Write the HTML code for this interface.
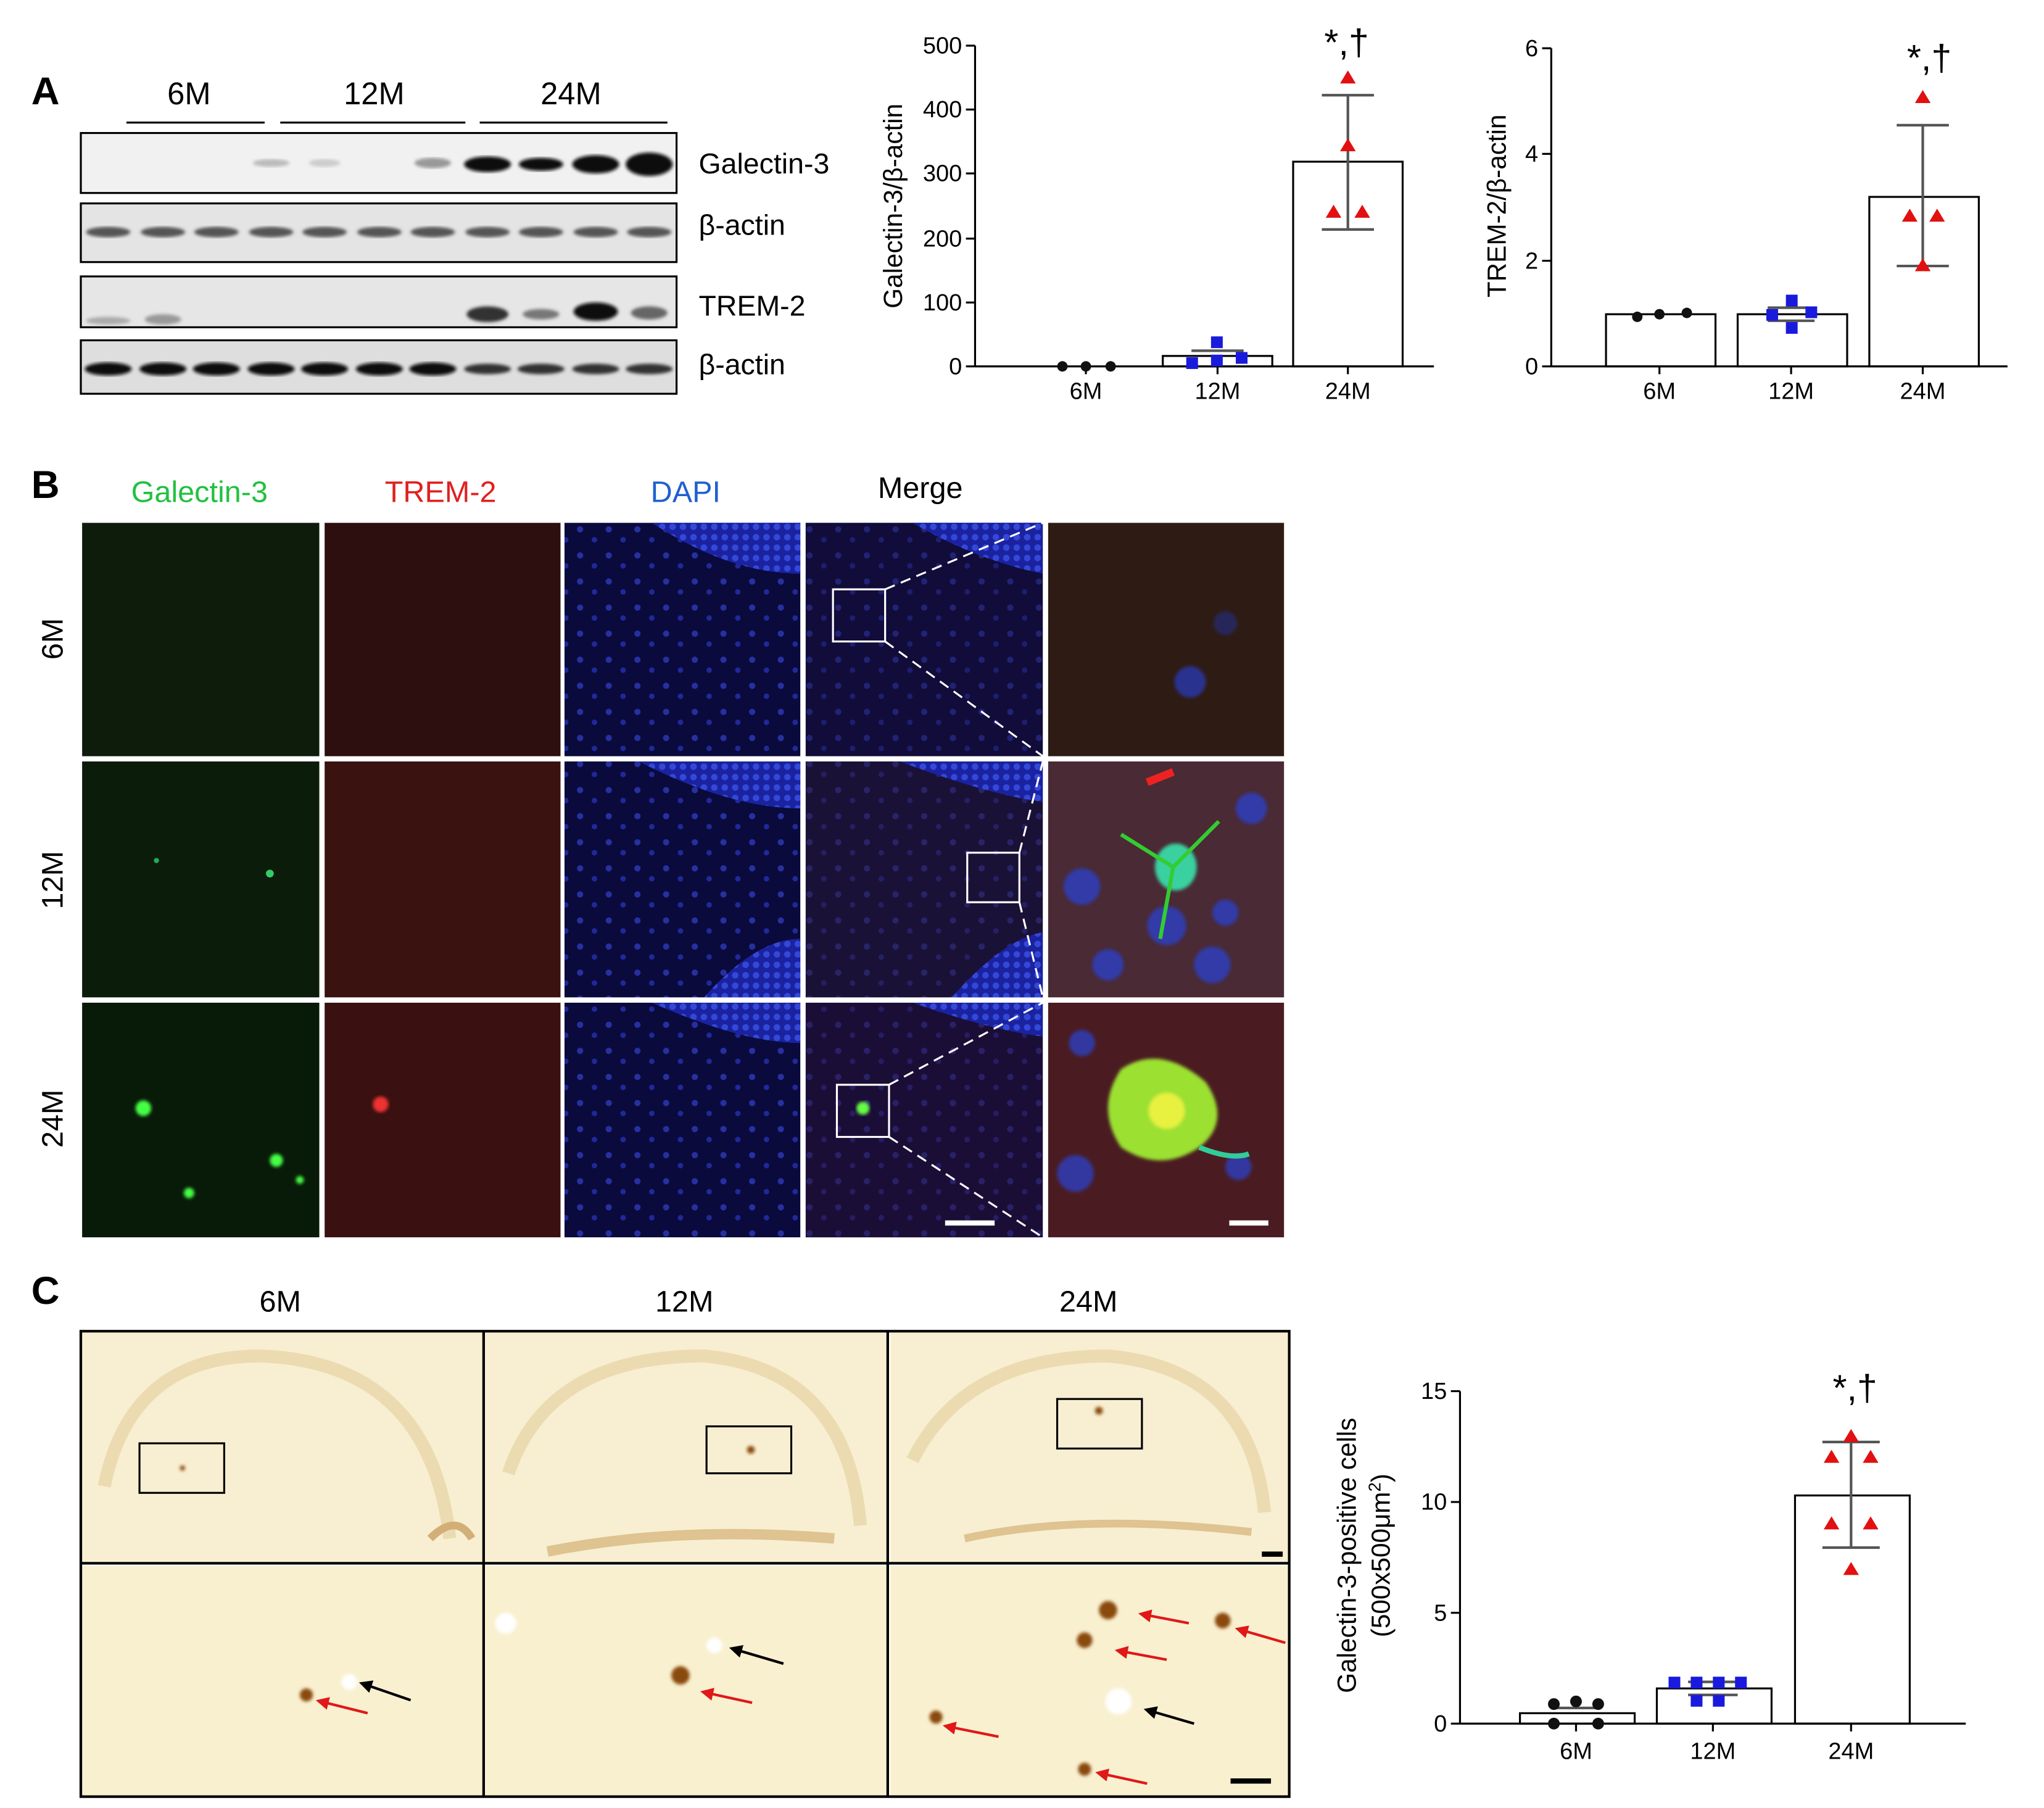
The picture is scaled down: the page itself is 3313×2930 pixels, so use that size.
<!DOCTYPE html>
<html><head><meta charset="utf-8"><style>html,body{margin:0;padding:0;background:#fff}svg{display:block}text{font-family:"Liberation Sans",sans-serif}</style></head><body>
<svg width="3313" height="2930" viewBox="0 0 1568 1386.7" xmlns="http://www.w3.org/2000/svg">
<defs>
<filter id="bl"><feGaussianBlur stdDeviation="3"/></filter>
<filter id="bl1"><feGaussianBlur stdDeviation="1.2"/></filter>
<pattern id="dapi" width="22" height="20" patternUnits="userSpaceOnUse"><rect width="22" height="20" fill="#0a0a3c"/><circle cx="5" cy="6" r="2.4" fill="#2630a0"/><circle cx="16" cy="14" r="2.1" fill="#20289a"/></pattern>
<pattern id="dapid" width="8" height="8" patternUnits="userSpaceOnUse"><rect width="8" height="8" fill="#1a22a0"/><circle cx="4" cy="4" r="2.5" fill="#3448d8"/></pattern>
<marker id="ar" viewBox="0 0 10 10" refX="2" refY="5" markerWidth="5" markerHeight="5" orient="auto-start-reverse"><path d="M0 0L10 5L0 10z" fill="#e01818"/></marker>
<marker id="ak" viewBox="0 0 10 10" refX="2" refY="5" markerWidth="5" markerHeight="5" orient="auto-start-reverse"><path d="M0 0L10 5L0 10z" fill="#000"/></marker>
</defs>
<g font-weight="bold" font-size="30"><text x="24" y="80">A</text><text x="24" y="382">B</text><text x="24" y="1000">C</text></g>
<g font-size="24" text-anchor="middle"><text x="145" y="80">6M</text><text x="287" y="80">12M</text><text x="438" y="80">24M</text></g>
<g stroke="#000" stroke-width="1.5"><line x1="97" y1="94" x2="203" y2="94"/><line x1="215" y1="94" x2="357" y2="94"/><line x1="368" y1="94" x2="512" y2="94"/></g>
<g stroke="#000" stroke-width="1.5" fill="#f1f1f1"><rect x="62" y="102" width="457" height="46"/><rect x="62" y="156" width="457" height="45" fill="#e4e4e4"/><rect x="62" y="212" width="457" height="39" fill="#e6e6e6"/><rect x="62" y="261" width="457" height="41" fill="#dedede"/></g>
<g fill="#111">
<ellipse cx="208" cy="125" rx="14" ry="3" fill="#bbb" filter="url(#bl1)"/><ellipse cx="249" cy="125" rx="12" ry="3" fill="#ccc" filter="url(#bl1)"/><ellipse cx="332" cy="125" rx="14" ry="4" fill="#999" filter="url(#bl1)"/>
<ellipse cx="374" cy="126" rx="18" ry="6" filter="url(#bl1)"/><ellipse cx="415" cy="126" rx="17" ry="5" filter="url(#bl1)"/><ellipse cx="457" cy="126" rx="18" ry="7" filter="url(#bl1)"/><ellipse cx="498" cy="126" rx="18" ry="9" filter="url(#bl1)"/>
</g>
<g fill="#555" filter="url(#bl1)"><ellipse cx="83" cy="178" rx="17" ry="4"/><ellipse cx="125" cy="178" rx="17" ry="4"/><ellipse cx="166" cy="178" rx="17" ry="4"/><ellipse cx="208" cy="178" rx="17" ry="4"/><ellipse cx="249" cy="178" rx="17" ry="4"/><ellipse cx="291" cy="178" rx="17" ry="4"/><ellipse cx="332" cy="178" rx="17" ry="4"/><ellipse cx="374" cy="178" rx="17" ry="4"/><ellipse cx="415" cy="178" rx="17" ry="4"/><ellipse cx="457" cy="178" rx="17" ry="4"/><ellipse cx="498" cy="178" rx="17" ry="4"/></g>
<g filter="url(#bl1)"><ellipse cx="83" cy="246" rx="17" ry="3" fill="#aaa"/><ellipse cx="125" cy="245" rx="14" ry="4" fill="#999"/><ellipse cx="374" cy="241" rx="16" ry="6" fill="#333"/><ellipse cx="415" cy="241" rx="14" ry="4" fill="#777"/><ellipse cx="457" cy="239" rx="17" ry="7" fill="#111"/><ellipse cx="498" cy="240" rx="14" ry="5" fill="#666"/></g>
<g fill="#111" filter="url(#bl1)"><ellipse cx="83" cy="283" rx="18" ry="5"/><ellipse cx="125" cy="283" rx="18" ry="5"/><ellipse cx="166" cy="283" rx="18" ry="5"/><ellipse cx="208" cy="283" rx="18" ry="5"/><ellipse cx="249" cy="283" rx="18" ry="5"/><ellipse cx="291" cy="283" rx="18" ry="5"/><ellipse cx="332" cy="283" rx="18" ry="5"/><ellipse cx="374" cy="283" rx="18" ry="4" fill="#333"/><ellipse cx="415" cy="283" rx="18" ry="4" fill="#333"/><ellipse cx="457" cy="283" rx="18" ry="4" fill="#333"/><ellipse cx="498" cy="283" rx="18" ry="4" fill="#333"/></g>
<g font-size="22"><text x="536" y="133">Galectin-3</text><text x="536" y="180">β-actin</text><text x="536" y="242">TREM-2</text><text x="536" y="287">β-actin</text></g>
<g stroke="#000" stroke-width="1.5" fill="none"><line x1="748" y1="35" x2="748" y2="281"/><line x1="748" y1="281" x2="1100" y2="281"/>
<line x1="741" y1="35" x2="748" y2="35"/><line x1="741" y1="84" x2="748" y2="84"/><line x1="741" y1="133" x2="748" y2="133"/><line x1="741" y1="183" x2="748" y2="183"/><line x1="741" y1="232" x2="748" y2="232"/><line x1="741" y1="281" x2="748" y2="281"/>
<line x1="833" y1="281" x2="833" y2="287"/><line x1="934" y1="281" x2="934" y2="287"/><line x1="1034" y1="281" x2="1034" y2="287"/>
<rect x="892" y="273" width="84" height="8"/><rect x="992" y="124" width="84" height="157"/></g>
<g stroke="#555" stroke-width="2"><line x1="1034" y1="73" x2="1034" y2="176"/><line x1="1014" y1="73" x2="1054" y2="73"/><line x1="1014" y1="176" x2="1054" y2="176"/><line x1="914" y1="269" x2="954" y2="269"/></g>
<g font-size="18" text-anchor="end"><text x="738" y="41">500</text><text x="738" y="90">400</text><text x="738" y="139">300</text><text x="738" y="189">200</text><text x="738" y="238">100</text><text x="738" y="287">0</text></g>
<g font-size="18" text-anchor="middle"><text x="833" y="306">6M</text><text x="934" y="306">12M</text><text x="1034" y="306">24M</text><text x="1475" y="306">24M</text></g>
<text transform="translate(692,158) rotate(-90)" font-size="20" text-anchor="middle">Galectin-3/β-actin</text>
<text x="1033" y="42" font-size="28" text-anchor="middle">*,†</text>
<g fill="#111"><circle cx="815" cy="281" r="4"/><circle cx="833" cy="281" r="4"/><circle cx="852" cy="281" r="4"/></g>
<g fill="#1a1adc"><rect x="929" y="258" width="9" height="9"/><rect x="910" y="274" width="9" height="9"/><rect x="948" y="270" width="9" height="9"/><rect x="929" y="272" width="9" height="9"/></g>
<g fill="#e21010"><path d="M1034 54l6 10h-12z"/><path d="M1034 106l6 10h-12z"/><path d="M1023 157l6 10h-12z"/><path d="M1045 157l6 10h-12z"/></g>
<g stroke="#000" stroke-width="1.5" fill="none"><line x1="1190" y1="37" x2="1190" y2="281"/><line x1="1190" y1="281" x2="1540" y2="281"/>
<line x1="1183" y1="37" x2="1190" y2="37"/><line x1="1183" y1="118" x2="1190" y2="118"/><line x1="1183" y1="200" x2="1190" y2="200"/><line x1="1183" y1="281" x2="1190" y2="281"/>
<line x1="1273" y1="281" x2="1273" y2="287"/><line x1="1374" y1="281" x2="1374" y2="287"/><line x1="1475" y1="281" x2="1475" y2="287"/>
<rect x="1232" y="241" width="84" height="40"/><rect x="1333" y="241" width="84" height="40"/><rect x="1434" y="151" width="84" height="130"/></g>
<g stroke="#555" stroke-width="2"><line x1="1475" y1="96" x2="1475" y2="204"/><line x1="1455" y1="96" x2="1495" y2="96"/><line x1="1455" y1="204" x2="1495" y2="204"/><line x1="1356" y1="236" x2="1392" y2="236"/><line x1="1356" y1="246" x2="1392" y2="246"/></g>
<g font-size="18" text-anchor="end"><text x="1180" y="43">6</text><text x="1180" y="124">4</text><text x="1180" y="206">2</text><text x="1180" y="287">0</text></g>
<g font-size="18" text-anchor="middle"><text x="1273" y="306">6M</text><text x="1374" y="306">12M</text></g>
<text transform="translate(1155,158) rotate(-90)" font-size="20" text-anchor="middle">TREM-2/β-actin</text>
<text x="1480" y="54" font-size="28" text-anchor="middle">*,†</text>
<g fill="#111"><circle cx="1256" cy="243" r="4"/><circle cx="1273" cy="241" r="4"/><circle cx="1294" cy="240" r="4"/></g>
<g fill="#1a1adc"><rect x="1370" y="226" width="9" height="9"/><rect x="1355" y="237" width="9" height="9"/><rect x="1385" y="235" width="9" height="9"/><rect x="1370" y="247" width="9" height="9"/></g>
<g fill="#e21010"><path d="M1475 69l6 10h-12z"/><path d="M1465 160l6 10h-12z"/><path d="M1486 160l6 10h-12z"/><path d="M1475 198l6 10h-12z"/></g>
<g font-size="23" text-anchor="middle"><text x="153" y="385" fill="#22c040">Galectin-3</text><text x="338" y="385" fill="#e02020">TREM-2</text><text x="526" y="385" fill="#2060d0">DAPI</text><text x="706" y="382">Merge</text></g>
<g font-size="23" text-anchor="middle"><text transform="translate(48,490) rotate(-90)">6M</text><text transform="translate(48,675) rotate(-90)">12M</text><text transform="translate(48,858) rotate(-90)">24M</text></g>
<rect x="63" y="401" width="182" height="179" fill="#0e1c0c"/>
<rect x="249" y="401" width="181" height="179" fill="#2c0f0e"/>
<rect x="433" y="401" width="181" height="179" fill="url(#dapi)"/><path d="M500 401 Q560 440 614 440 V401Z" fill="url(#dapid)"/>
<rect x="618" y="401" width="182" height="179" fill="#1c1034"/><rect x="618" y="401" width="182" height="179" fill="url(#dapi)" opacity="0.6"/><path d="M700 401 Q750 430 800 440 V401Z" fill="url(#dapid)"/>
<rect x="804" y="401" width="181" height="179" fill="#2e1c14"/><circle cx="913" cy="523" r="12" fill="#2a3090" filter="url(#bl1)"/><circle cx="940" cy="478" r="9" fill="#28285a" filter="url(#bl1)"/>
<rect x="63" y="584" width="182" height="181" fill="#0c1c0a"/><circle cx="207" cy="670" r="3" fill="#3c6"/><circle cx="120" cy="660" r="2" fill="#2a5"/>
<rect x="249" y="584" width="181" height="181" fill="#3a1210"/>
<rect x="433" y="584" width="181" height="181" fill="url(#dapi)"/><path d="M490 584 Q560 620 614 620 V584Z M540 765 Q580 720 614 720 V765Z" fill="url(#dapid)"/>
<rect x="618" y="584" width="182" height="181" fill="#2a1830"/><rect x="618" y="584" width="182" height="181" fill="url(#dapi)" opacity="0.5"/><path d="M690 584 Q760 610 800 615 V584Z M730 765 Q770 720 800 715 V765Z" fill="url(#dapid)"/>
<rect x="804" y="584" width="181" height="181" fill="#4a2a34"/><g fill="#303aa8" filter="url(#bl1)"><circle cx="830" cy="680" r="14"/><circle cx="895" cy="710" r="15"/><circle cx="930" cy="740" r="14"/><circle cx="960" cy="620" r="12"/><circle cx="940" cy="700" r="10"/><circle cx="850" cy="740" r="12"/></g><ellipse cx="902" cy="665" rx="16" ry="18" fill="#3ad0a0" filter="url(#bl1)"/><path d="M860 640 L900 665 L935 630 M900 665 L890 720" stroke="#3c3" stroke-width="3" fill="none"/><path d="M880 600 l20 -8" stroke="#e22" stroke-width="6"/>
<rect x="63" y="769" width="182" height="180" fill="#081a08"/><g fill="#4f4" filter="url(#bl1)"><circle cx="110" cy="850" r="6"/><circle cx="212" cy="890" r="5"/><circle cx="145" cy="915" r="4"/><circle cx="230" cy="905" r="3"/></g>
<rect x="249" y="769" width="181" height="180" fill="#3a1010"/><circle cx="292" cy="847" r="6" fill="#e33" filter="url(#bl1)"/>
<rect x="433" y="769" width="181" height="180" fill="url(#dapi)"/><path d="M500 769 Q570 800 614 800 V769Z" fill="url(#dapid)"/>
<rect x="618" y="769" width="182" height="180" fill="#2c1230"/><rect x="618" y="769" width="182" height="180" fill="url(#dapi)" opacity="0.5"/><path d="M700 769 Q760 790 800 795 V769Z" fill="url(#dapid)"/><circle cx="662" cy="850" r="5" fill="#6f4" filter="url(#bl1)"/>
<rect x="804" y="769" width="181" height="180" fill="#4a1c22"/><g fill="#3038a0" filter="url(#bl1)"><circle cx="825" cy="900" r="14"/><circle cx="950" cy="895" r="10"/><circle cx="830" cy="800" r="10"/></g><path d="M860 820 Q890 800 925 830 Q945 860 920 880 Q890 900 860 880 Q840 850 860 820Z" fill="#9ce030" filter="url(#bl1)"/><circle cx="895" cy="852" r="14" fill="#e8f040" filter="url(#bl1)"/><path d="M920 880 Q945 890 958 885" stroke="#3c9" stroke-width="4" fill="none"/>
<g fill="#fff"><rect x="245" y="398" width="4" height="555"/><rect x="430" y="398" width="3" height="555"/><rect x="614" y="398" width="4" height="555"/><rect x="800" y="398" width="4" height="555"/><rect x="60" y="580" width="930" height="4"/><rect x="60" y="765" width="930" height="4"/></g>
<g fill="none" stroke="#fff" stroke-width="1.5"><rect x="639" y="452" width="40" height="40"/><rect x="742" y="654" width="40" height="38"/><rect x="642" y="832" width="40" height="40"/></g>
<g stroke="#fff" stroke-width="1.5" stroke-dasharray="8,5"><line x1="679" y1="452" x2="800" y2="401"/><line x1="679" y1="492" x2="800" y2="580"/><line x1="782" y1="654" x2="800" y2="584"/><line x1="782" y1="692" x2="800" y2="765"/><line x1="682" y1="832" x2="800" y2="769"/><line x1="682" y1="872" x2="800" y2="949"/></g>
<g stroke="#fff" stroke-width="4"><line x1="725" y1="938" x2="763" y2="938"/><line x1="943" y1="938" x2="973" y2="938"/></g>
<g font-size="23" text-anchor="middle"><text x="215" y="1006">6M</text><text x="525" y="1006">12M</text><text x="835" y="1006">24M</text></g>
<g fill="#f8efd2"><rect x="62" y="1021" width="308" height="177"/><rect x="372" y="1021" width="308" height="177"/><rect x="683" y="1021" width="306" height="177"/><rect x="62" y="1201" width="308" height="177" fill="#f9f0d0"/><rect x="372" y="1201" width="308" height="177" fill="#f9f0d0"/><rect x="683" y="1201" width="306" height="177" fill="#f9f0d0"/></g>
<g fill="none" stroke="#e0c890" stroke-width="10" opacity="0.5"><path d="M80 1140 Q100 1040 200 1040 Q330 1045 345 1180"/><path d="M390 1130 Q420 1040 540 1040 Q650 1050 660 1170"/><path d="M700 1120 Q740 1040 850 1040 Q960 1050 970 1160"/><path d="M420 1190 Q520 1170 640 1180" stroke="#c89850" stroke-width="8"/><path d="M740 1180 Q830 1160 960 1175" stroke="#c89850" stroke-width="6"/><path d="M330 1180 Q350 1160 362 1180" stroke="#b07020" stroke-width="6"/></g>
<g fill="none" stroke="#000" stroke-width="1.5"><rect x="107" y="1107" width="65" height="38"/><rect x="542" y="1094" width="65" height="36"/><rect x="811" y="1073" width="65" height="38"/></g>
<g fill="#8a4a10" filter="url(#bl1)"><circle cx="235" cy="1300" r="5"/><circle cx="522" cy="1285" r="7"/><circle cx="850" cy="1235" r="7"/><circle cx="832" cy="1258" r="6"/><circle cx="938" cy="1243" r="6"/><circle cx="718" cy="1317" r="5"/><circle cx="832" cy="1357" r="5"/><circle cx="140" cy="1126" r="2"/><circle cx="576" cy="1112" r="3"/><circle cx="843" cy="1082" r="3"/></g>
<g fill="#fff" filter="url(#bl1)"><circle cx="268" cy="1290" r="6"/><circle cx="388" cy="1245" r="8"/><circle cx="548" cy="1262" r="6"/><circle cx="858" cy="1305" r="10"/></g>
<g stroke="#e01818" stroke-width="2"><line x1="282" y1="1314" x2="250" y2="1306" marker-end="url(#ar)"/><line x1="577" y1="1306" x2="545" y2="1299" marker-end="url(#ar)"/><line x1="912" y1="1245" x2="881" y2="1239" marker-end="url(#ar)"/><line x1="895" y1="1273" x2="863" y2="1267" marker-end="url(#ar)"/><line x1="986" y1="1260" x2="955" y2="1251" marker-end="url(#ar)"/><line x1="766" y1="1332" x2="731" y2="1325" marker-end="url(#ar)"/><line x1="880" y1="1368" x2="848" y2="1361" marker-end="url(#ar)"/></g>
<g stroke="#000" stroke-width="2"><line x1="315" y1="1304" x2="283" y2="1293" marker-end="url(#ak)"/><line x1="601" y1="1276" x2="567" y2="1266" marker-end="url(#ak)"/><line x1="916" y1="1322" x2="885" y2="1313" marker-end="url(#ak)"/></g>
<g fill="none" stroke="#000" stroke-width="2"><rect x="62" y="1021" width="927" height="357"/><line x1="371" y1="1021" x2="371" y2="1378"/><line x1="681" y1="1021" x2="681" y2="1378"/><line x1="62" y1="1199" x2="989" y2="1199"/></g>
<g stroke="#000" stroke-width="4"><line x1="968" y1="1192" x2="984" y2="1192"/><line x1="944" y1="1366" x2="975" y2="1366"/></g>
<g stroke="#000" stroke-width="1.5" fill="none"><line x1="1120" y1="1067" x2="1120" y2="1322"/><line x1="1120" y1="1322" x2="1508" y2="1322"/>
<line x1="1113" y1="1067" x2="1120" y2="1067"/><line x1="1113" y1="1152" x2="1120" y2="1152"/><line x1="1113" y1="1237" x2="1120" y2="1237"/><line x1="1113" y1="1322" x2="1120" y2="1322"/>
<line x1="1209" y1="1322" x2="1209" y2="1328"/><line x1="1314" y1="1322" x2="1314" y2="1328"/><line x1="1420" y1="1322" x2="1420" y2="1328"/>
<rect x="1166" y="1314" width="88" height="8"/><rect x="1271" y="1295" width="88" height="27"/><rect x="1377" y="1147" width="88" height="175"/></g>
<g stroke="#555" stroke-width="2"><line x1="1420" y1="1106" x2="1420" y2="1187"/><line x1="1398" y1="1106" x2="1442" y2="1106"/><line x1="1398" y1="1187" x2="1442" y2="1187"/><line x1="1190" y1="1310" x2="1228" y2="1310"/><line x1="1295" y1="1290" x2="1333" y2="1290"/><line x1="1295" y1="1300" x2="1333" y2="1300"/></g>
<g font-size="18" text-anchor="end"><text x="1110" y="1073">15</text><text x="1110" y="1158">10</text><text x="1110" y="1243">5</text><text x="1110" y="1328">0</text></g>
<g font-size="18" text-anchor="middle"><text x="1209" y="1349">6M</text><text x="1314" y="1349">12M</text><text x="1420" y="1349">24M</text></g>
<text transform="translate(1040,1193) rotate(-90)" font-size="20" text-anchor="middle">Galectin-3-positive cells</text>
<text transform="translate(1066,1193) rotate(-90)" font-size="20" text-anchor="middle">(500x500μm<tspan font-size="13" dy="-7">2</tspan><tspan dy="7">)</tspan></text>
<text x="1423" y="1074" font-size="28" text-anchor="middle">*,†</text>
<g fill="#111"><circle cx="1192" cy="1307" r="4.5"/><circle cx="1209" cy="1305" r="4.5"/><circle cx="1226" cy="1307" r="4.5"/><circle cx="1192" cy="1322" r="4.5"/><circle cx="1226" cy="1322" r="4.5"/></g>
<g fill="#1a1adc"><rect x="1280" y="1286" width="9" height="9"/><rect x="1297" y="1286" width="9" height="9"/><rect x="1314" y="1286" width="9" height="9"/><rect x="1331" y="1286" width="9" height="9"/><rect x="1297" y="1300" width="9" height="9"/><rect x="1314" y="1300" width="9" height="9"/></g>
<g fill="#e21010"><path d="M1420 1096l6 10h-12z"/><path d="M1405 1112l6 10h-12z"/><path d="M1435 1112l6 10h-12z"/><path d="M1405 1163l6 10h-12z"/><path d="M1435 1163l6 10h-12z"/><path d="M1420 1198l6 10h-12z"/></g>
</svg>
</body></html>
